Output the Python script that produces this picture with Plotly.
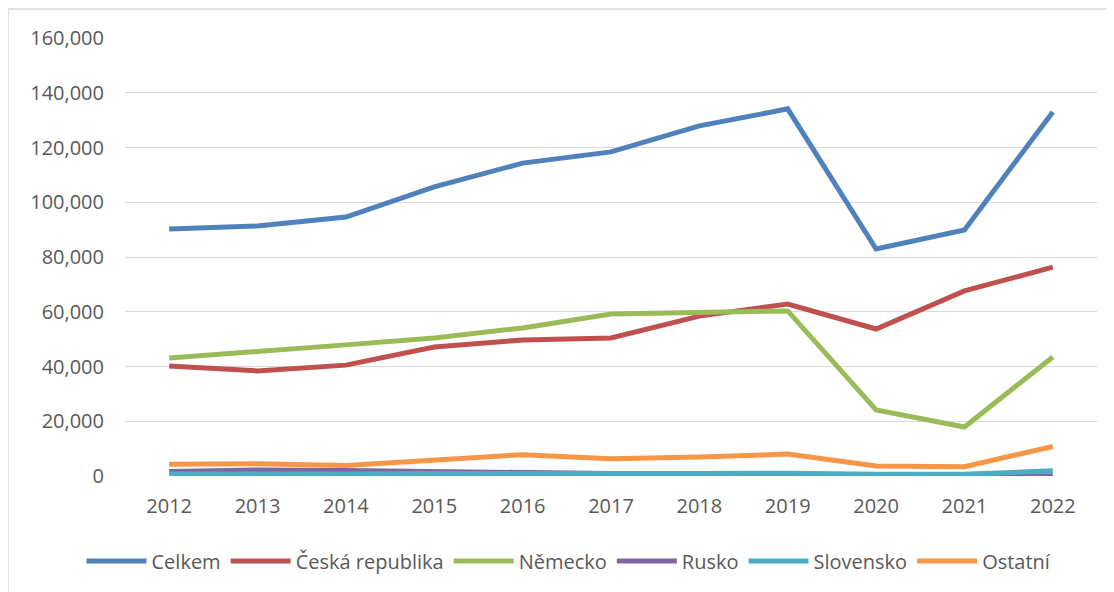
import plotly.graph_objects as go

years = ["2012", "2013", "2014", "2015", "2016", "2017", "2018", "2019", "2020", "2021", "2022"]

celkem = [90200, 91300, 94600, 105600, 114300, 118400, 127900, 134100, 82900, 89900, 133000]
ceska_republika = [40200, 38400, 40500, 47100, 49700, 50400, 58400, 62800, 53700, 67600, 76300]
nemecko = [43100, 45300, 47900, 50400, 54100, 59200, 59900, 60300, 24100, 17900, 43500]
rusko = [1600, 2200, 2000, 1500, 1100, 900, 900, 900, 200, 0, 100]
slovensko = [700, 600, 700, 900, 1100, 900, 900, 1000, 600, 600, 1900]
ostatni = [4300, 4500, 3800, 5800, 7800, 6300, 6900, 8000, 3650, 3400, 10800]

series = [
    ("Celkem", celkem, "#4F81BD"),
    ("Česká republika", ceska_republika, "#C0504D"),
    ("Německo", nemecko, "#9BBB59"),
    ("Rusko", rusko, "#8064A2"),
    ("Slovensko", slovensko, "#4BACC6"),
    ("Ostatní", ostatni, "#F79646"),
]

y_ticks = [0, 20000, 40000, 60000, 80000, 100000, 120000, 140000, 160000]

fig = go.Figure()
for name, vals, color in series:
    fig.add_trace(go.Scatter(
        x=years, y=vals, name=name, mode="lines",
        line=dict(color=color, width=5),
    ))

font_family = "Open Sans"
# page body has an 8px margin, so offsets are compensated here
ML, MR, MT, MB = 117, 25, 30, 124
PW = 1114 - ML - MR
PH = 592 - MT - MB
fig.update_layout(
    width=1114, height=592,
    margin=dict(l=ML, r=MR, t=MT, b=MB),
    paper_bgcolor="white", plot_bgcolor="white",
    font=dict(family=font_family, size=20, color="#595959"),
    showlegend=True,
    legend=dict(
        orientation="h", x=(569 - 8 - ML) / PW, xanchor="center",
        y=-(561 - 476) / PH, yanchor="middle",
        font=dict(family=font_family, size=20, color="#595959"),
        itemwidth=60, tracegroupgap=0,
    ),
    xaxis=dict(
        type="category", range=[-0.5, 10.5], showgrid=False, zeroline=False,
        showline=False, ticks="", ticklabelstandoff=16,
        tickfont=dict(family=font_family, size=20, color="#595959"),
    ),
    yaxis=dict(
        range=[0, 160000], tickvals=y_ticks, tickformat=",d",
        showgrid=True, gridcolor="#D9D9D9", gridwidth=1.3, zeroline=False,
        showline=False, ticks="", ticklabelstandoff=20,
        tickfont=dict(family=font_family, size=20, color="#595959"),
    ),
    shapes=[dict(
        type="rect", xref="paper", yref="paper",
        x0=(7 - 8 - ML) / PW + 0.001, x1=(1125 - ML) / PW,
        y0=-(600 - 476) / PH, y1=(476 - 9) / PH,
        line=dict(color="#D9D9D9", width=1.5), fillcolor="rgba(0,0,0,0)", layer="below",
    )],
)

fig.write_html("out.html")
